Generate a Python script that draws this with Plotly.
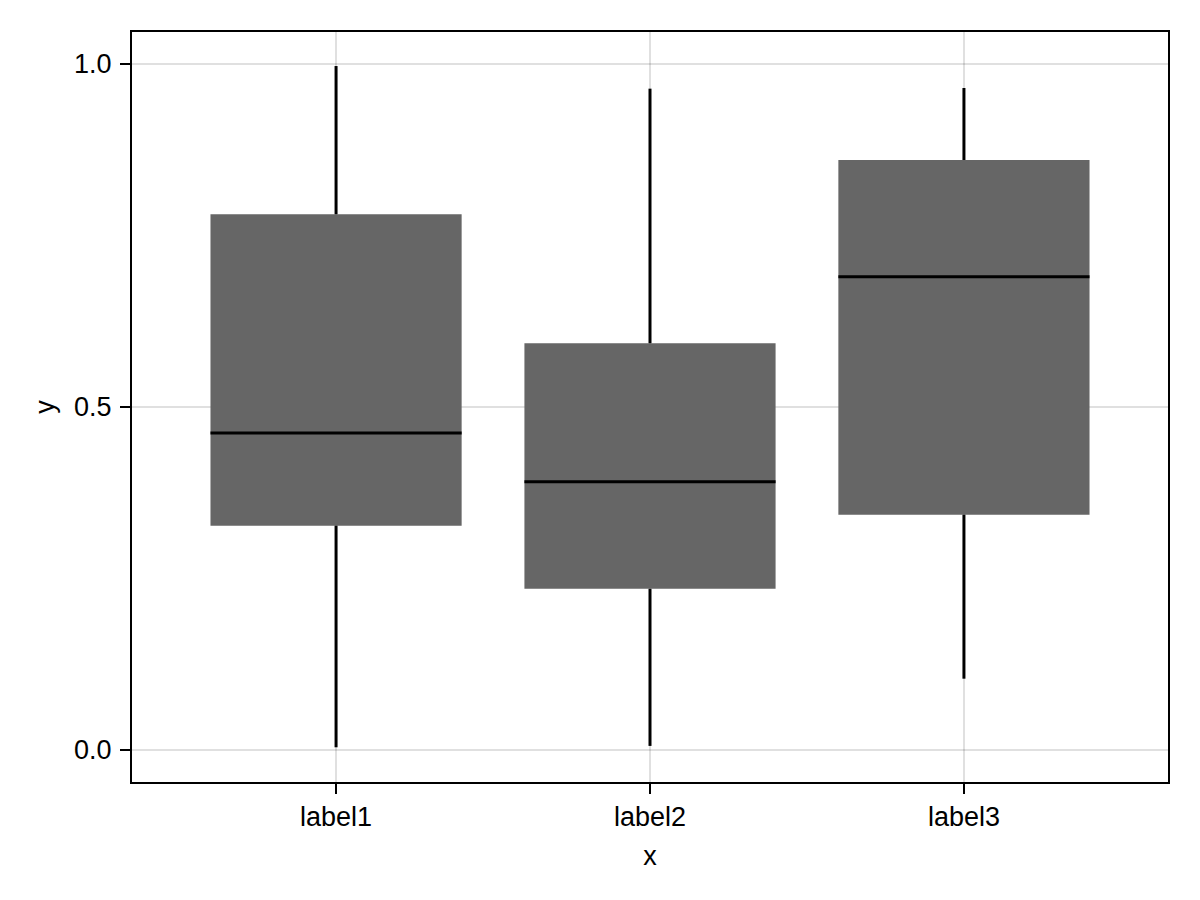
import plotly.graph_objects as go

# box statistics
labels = ["label1", "label2", "label3"]
lower = [0.004, 0.006, 0.104]
q1 = [0.327, 0.235, 0.343]
median = [0.462, 0.391, 0.690]
q3 = [0.781, 0.593, 0.860]
upper = [0.997, 0.964, 0.965]

_BOX = "#666666"
_GRID = "rgba(0, 0, 0, 0.12)"
_WIDTH = 0.8
pos = list(range(len(labels)))

# whiskers: low -> q1 and q3 -> high, separated by None
wx, wy = [], []
for i in pos:
    wx += [i, i, None, i, i, None]
    wy += [lower[i], q1[i], None, q3[i], upper[i], None]

# median segments across the box width
mx, my = [], []
for i in pos:
    mx += [i - _WIDTH / 2, i + _WIDTH / 2, None]
    my += [median[i], median[i], None]

fig = go.Figure()
fig.add_trace(
    go.Bar(
        x=pos,
        y=[h - l for h, l in zip(q3, q1)],
        base=q1,
        width=_WIDTH,
        marker=dict(color=_BOX, line=dict(width=0)),
        hoverinfo="skip",
    )
)
fig.add_trace(
    go.Scatter(x=wx, y=wy, mode="lines", line=dict(color="black", width=3),
               hoverinfo="skip")
)
fig.add_trace(
    go.Scatter(x=mx, y=my, mode="lines", line=dict(color="black", width=3),
               hoverinfo="skip")
)

axis = dict(
    showline=True,
    linecolor="black",
    linewidth=2,
    mirror=True,
    gridcolor=_GRID,
    gridwidth=1.5,
    zeroline=False,
    ticks="outside",
    ticklen=10,
    tickwidth=2,
    tickcolor="black",
    tickfont=dict(size=27, color="black"),
    title_font=dict(size=27, color="black"),
)

fig.update_layout(
    width=1200,
    height=900,
    paper_bgcolor="white",
    plot_bgcolor="white",
    font=dict(family="Liberation Sans, Arial, sans-serif", color="black"),
    showlegend=False,
    margin=dict(l=132, r=32, t=32, b=118),
    xaxis=dict(
        axis,
        range=[-0.65, 2.65],
        tickmode="array",
        tickvals=pos,
        ticktext=labels,
        ticklabelstandoff=0,
        title=dict(text="x", standoff=15),
    ),
    yaxis=dict(
        axis,
        range=[-0.0466, 1.0466],
        tickmode="array",
        tickvals=[0.0, 0.5, 1.0],
        ticktext=["0.0", "0.5", "1.0"],
        ticklabelstandoff=3,
        title=dict(text="y", standoff=12),
    ),
)

fig.write_html(
    "out.html",
    config={"displayModeBar": False},
    post_script="document.body.style.margin='0';",
)
